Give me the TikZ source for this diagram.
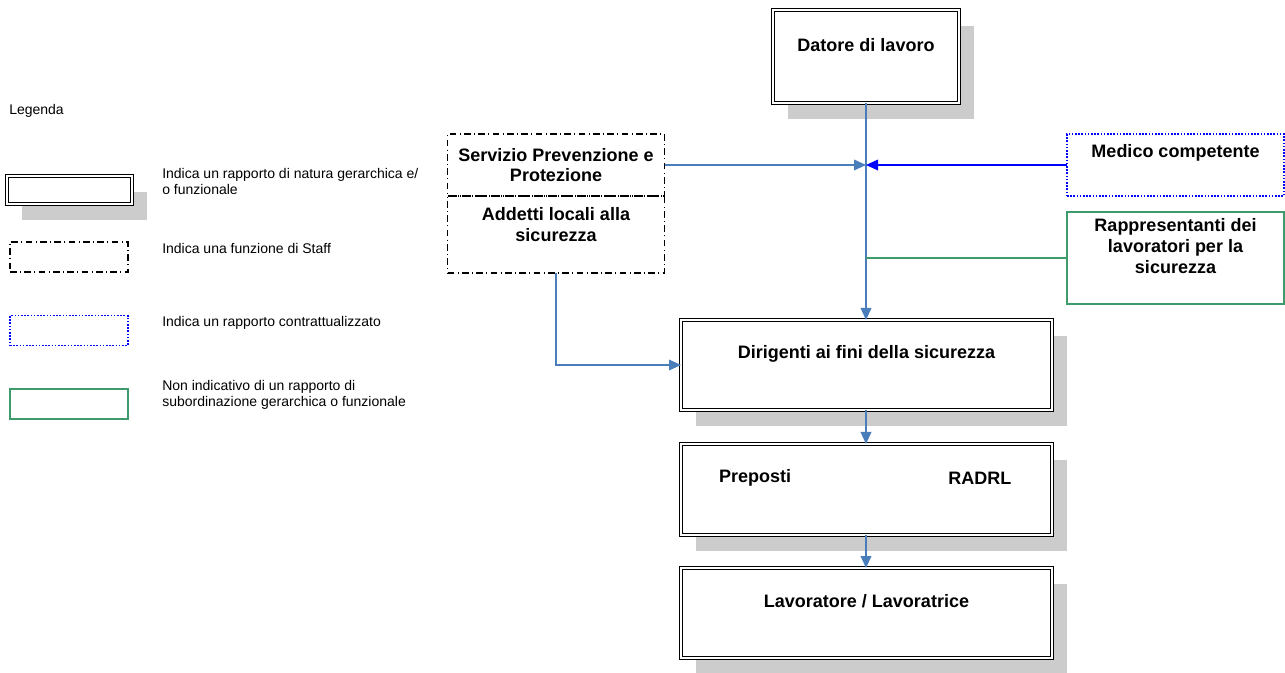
\documentclass[tikz,border=0pt]{standalone}
\usepackage{fontspec}
\setmainfont{Liberation Sans}
\usepackage{xcolor}
\definecolor{linkblue}{HTML}{4A7EBB}
\definecolor{medblue}{HTML}{0000FF}
\definecolor{rlsgreen}{HTML}{3E9B6C}
\definecolor{shadegray}{HTML}{CCCCCC}
\usetikzlibrary{arrows.meta,shadows}
\tikzset{
  orgbox/.style={rectangle, draw=black, double, double distance=1.2pt, line width=0.6pt,
    fill=white, inner sep=0pt, outer sep=0pt,
    drop shadow={shadow xshift=11.25pt, shadow yshift=-12pt, fill=shadegray, opacity=1},
    minimum width=278.25pt, minimum height=67.5pt},
  staffbox/.style={rectangle, draw=black, line width=0.9pt, inner sep=0pt, outer sep=0pt,
    dash pattern=on 5pt off 2.5pt on 0.75pt off 2.5pt},
  contractbox/.style={rectangle, draw=medblue, line width=0.9pt, inner sep=0pt, outer sep=0pt,
    dash pattern=on 1.2pt off 1.2pt},
  freebox/.style={rectangle, draw=rlsgreen, line width=0.9pt, inner sep=0pt, outer sep=0pt},
  boxtext/.style={font=\fontsize{13.5}{15.5}\selectfont\bfseries, align=center, inner sep=0pt},
  legtext/.style={font=\fontsize{10.5}{12}\selectfont, align=left, anchor=west, inner sep=0pt},
  linkarrow/.style={color=linkblue, line width=1.1pt, -{Triangle[length=9pt,width=8pt]}},
  medarrow/.style={color=medblue, line width=0.9pt, -{Triangle[length=9pt,width=8pt]}},
  freeline/.style={color=rlsgreen, line width=1.1pt},
}
\begin{document}
\begin{tikzpicture}[x=0.75pt, y=-0.75pt]
  \useasboundingbox (0,0) rectangle (1285,673);

  % legenda
  \node[legtext] (legtitle) at (9,111) {Legenda};
  \node[orgbox, double distance=0.9pt, line width=0.9pt, minimum width=93.75pt, minimum height=21pt] (leg1) at (69.5,190) {};
  \node[staffbox, minimum width=88.5pt, minimum height=22.5pt] (leg2) at (69,257) {};
  \node[contractbox, minimum width=88.5pt, minimum height=22pt] (leg3) at (69,330.5) {};
  \node[freebox, minimum width=88.5pt, minimum height=22.5pt] (leg4) at (69,404) {};
  \node[legtext] (legt1) at (162,181) {Indica un rapporto di natura gerarchica e/\\o funzionale};
  \node[legtext] (legt2) at (162,248) {Indica una funzione di Staff};
  \node[legtext] (legt3) at (162,323) {Indica un rapporto contrattualizzato};
  \node[legtext] (legt4) at (162,395) {Non indicativo di un rapporto di\\subordinazione gerarchica o funzionale};

  % organigramma
  \node[orgbox, minimum width=139.5pt, minimum height=69.75pt,
    label={[boxtext, yshift=8.6pt]center:Datore di lavoro}] (datore) at (866,56.5) {};
  \node[staffbox, minimum width=162.75pt, minimum height=46.5pt,
    label={[boxtext]center:Servizio Prevenzione e\\Protezione}] (spp) at (556,165) {};
  \node[staffbox, minimum width=162.75pt, minimum height=57.75pt,
    label={[boxtext, yshift=7.5pt]center:Addetti locali alla\\sicurezza}] (addetti) at (556,234.5) {};
  \node[contractbox, minimum width=162.75pt, minimum height=46.5pt,
    label={[boxtext, yshift=9pt]center:Medico competente}] (medico) at (1175.5,165) {};
  \node[freebox, minimum width=162.75pt, minimum height=69pt,
    label={[boxtext, yshift=9pt]center:Rappresentanti dei\\lavoratori per la\\sicurezza}] (rls) at (1175.5,258) {};
  \node[orgbox, label={[boxtext, yshift=8.3pt]center:Dirigenti ai fini della sicurezza}] (dirigenti) at (866.5,365) {};
  \node[orgbox, minimum height=68.25pt,
    label={[boxtext, xshift=-83.6pt, yshift=8.6pt]center:Preposti},
    label={[boxtext, xshift=85pt, yshift=8.6pt]center:RADRL}] (preposti) at (866.5,489.5) {};
  \node[orgbox, label={[boxtext, yshift=9pt]center:Lavoratore / Lavoratrice}] (lavoratori) at (866.5,613) {};

  \coordinate (snodo) at (866,165);
  \coordinate (snodorls) at (866,258);

  % collegamenti
  \draw[linkarrow] (datore.south -| snodo) -- (dirigenti.north -| snodo);
  \draw[linkarrow] (spp.east) -- (snodo);
  \draw[medarrow] (medico.west) -- (snodo);
  \draw[freeline] (rls.west) -- (snodorls);
  \draw[linkarrow] (addetti.south) |- (dirigenti.west);
  \draw[linkarrow] (dirigenti.south -| snodo) -- (preposti.north -| snodo);
  \draw[linkarrow] (preposti.south -| snodo) -- (lavoratori.north -| snodo);
\end{tikzpicture}
\end{document}
